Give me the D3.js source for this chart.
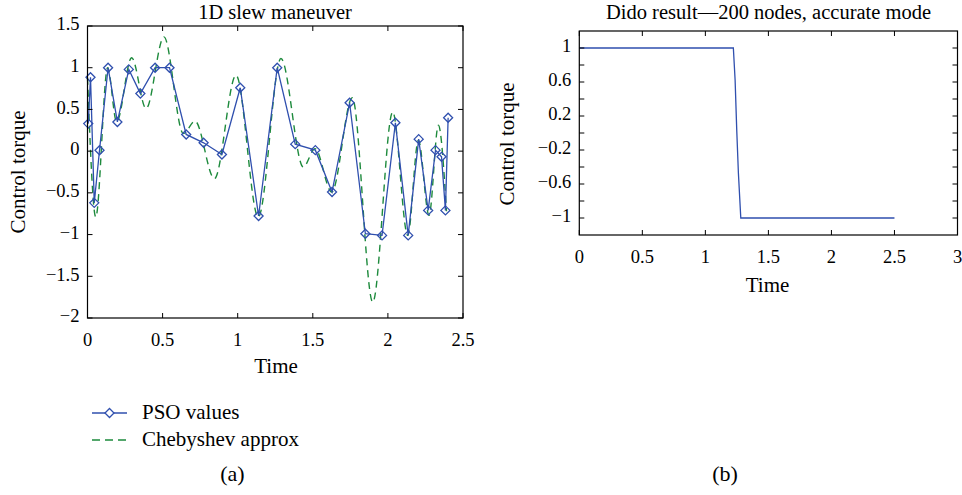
<!DOCTYPE html>
<html><head><meta charset="utf-8">
<script src="https://cdn.jsdelivr.net/npm/d3@7"></script>
<style>
html,body{margin:0;padding:0;background:#fff;}
svg text{font-family:"Liberation Serif","Times New Roman",serif;fill:#000;}
</style></head>
<body><svg id="chart" width="962" height="495"></svg>
<script>
// ---- data ----
const psoTime  = [0.005,0.02,0.045,0.08,0.137,0.199,0.275,0.352,0.45,0.546,0.657,0.773,0.895,1.017,1.139,1.263,1.383,1.517,1.628,1.745,1.85,1.961,2.05,2.135,2.205,2.268,2.317,2.357,2.383,2.401];
const psoValue = [0.33,0.885,-0.62,0.01,1.0,0.35,0.98,0.69,1.0,1.0,0.2,0.1,-0.04,0.76,-0.777,1.0,0.084,0.012,-0.49,0.58,-0.99,-1.01,0.34,-1.01,0.144,-0.71,0.012,-0.068,-0.71,0.40];
const chebTime  = [0.0,0.055,0.134,0.194,0.294,0.39,0.509,0.638,0.716,0.845,0.989,1.137,1.288,1.437,1.515,1.626,1.763,1.899,2.032,2.132,2.203,2.274,2.336,2.39];
const chebValue = [0.88,-0.79,1.0,0.35,1.12,0.51,1.37,0.21,0.36,-0.33,0.91,-0.79,1.11,-0.19,0.03,-0.49,0.64,-1.81,0.47,-1.01,0.13,-0.77,0.31,-0.72];
const didoTime  = [0,1.222,1.236,1.249,1.262,1.281,2.5];
const didoValue = [1,1,0.62,0.03,-0.47,-1,-1];

const leftXTicks = [0,0.5,1,1.5,2,2.5];
const leftYTicks = [-2,-1.5,-1,-0.5,0,0.5,1,1.5];
const rightXTicks = [0,0.5,1,1.5,2,2.5,3];
const rightYTicks = [-1,-0.8,-0.6,-0.4,-0.2,0,0.2,0.4,0.6,0.8,1];
const rightYLabels = [1,0.6,0.2,-0.2,-0.6,-1];

const titles = ["1D slew maneuver","Dido result\u2014200 nodes, accurate mode"];
const seriesNames = ["PSO values","Chebyshev approx"];

const blue = "#2f4fae", green = "#1d8a3c";
const fmt = v => d3.format("")(v).replace("-", "\u2212");
const FS = 21, TS = 18.5;

const svg = d3.select("#chart");

function frame(g, x, y, xt, yt, ylabels){
  const [x0,x1] = x.range(), [y0,y1] = y.range();
  const tl = 5;
  g.append("rect").attr("x",x0).attr("y",y1).attr("width",x1-x0).attr("height",y0-y1)
   .attr("fill","none").attr("stroke","#000").attr("stroke-width",1.2);
  xt.forEach(t=>{
    const px = x(t);
    g.append("line").attr("x1",px).attr("x2",px).attr("y1",y0).attr("y2",y0-tl).attr("stroke","#000");
    g.append("line").attr("x1",px).attr("x2",px).attr("y1",y1).attr("y2",y1+tl).attr("stroke","#000");
    g.append("text").attr("x",px).attr("y",y0+24).attr("text-anchor","middle")
     .attr("dominant-baseline","middle").attr("font-size",TS).text(fmt(t));
  });
  yt.forEach(t=>{
    const py = y(t);
    g.append("line").attr("x1",x0).attr("x2",x0+tl).attr("y1",py).attr("y2",py).attr("stroke","#000");
    g.append("line").attr("x1",x1).attr("x2",x1-tl).attr("y1",py).attr("y2",py).attr("stroke","#000");
  });
  ylabels.forEach(t=>{
    g.append("text").attr("x",x0-8).attr("y",y(t)).attr("text-anchor","end")
     .attr("dominant-baseline","middle").attr("font-size",TS).text(fmt(t));
  });
}

// ---- left chart ----
const xL = d3.scaleLinear().domain([0,2.5]).range([87.5,463]);
const yL = d3.scaleLinear().domain([-2,1.5]).range([318,26]);
const gL = svg.append("g");

const chebData = chebTime.map((t,i)=>[t,chebValue[i]]);
gL.append("path").datum(chebData)
  .attr("d", d3.line().x(d=>xL(d[0])).y(d=>yL(d[1])).curve(d3.curveMonotoneX))
  .attr("fill","none").attr("stroke",green).attr("stroke-width",1.4).attr("stroke-dasharray","7,5");

const psoData = psoTime.map((t,i)=>[t,psoValue[i]]);
gL.append("path").datum(psoData)
  .attr("d", d3.line().x(d=>xL(d[0])).y(d=>yL(d[1])))
  .attr("fill","none").attr("stroke",blue).attr("stroke-width",1.3);
const diamond = d3.symbol().type(d3.symbolDiamond2).size(52);
gL.selectAll("path.mk").data(psoData).join("path").attr("class","mk")
  .attr("d",diamond).attr("transform",d=>`translate(${xL(d[0])},${yL(d[1])})`)
  .attr("fill","none").attr("stroke",blue).attr("stroke-width",1.3);

frame(gL, xL, yL, leftXTicks, leftYTicks, leftYTicks);

gL.append("text").attr("x",275).attr("y",19).attr("text-anchor","middle")
  .attr("font-size",20.5).text(titles[0]);
gL.append("text").attr("x",276).attr("y",368).attr("text-anchor","middle").attr("dominant-baseline","middle")
  .attr("font-size",FS).text("Time");
gL.append("text").attr("transform","translate(20,172) rotate(-90)").attr("text-anchor","middle")
  .attr("dominant-baseline","middle").attr("font-size",FS).text("Control torque");

// legend
const lg = gL.append("g");
lg.append("line").attr("x1",92).attr("x2",127).attr("y1",413).attr("y2",413).attr("stroke",blue).attr("stroke-width",1.3);
lg.append("path").attr("d",diamond).attr("transform","translate(109.5,413)").attr("fill","#fff").attr("stroke",blue).attr("stroke-width",1.3);
lg.append("line").attr("x1",92).attr("x2",127).attr("y1",440).attr("y2",440).attr("stroke",green).attr("stroke-width",1.4).attr("stroke-dasharray","8,5");
lg.append("text").attr("x",142).attr("y",414).attr("dominant-baseline","middle").attr("font-size",FS).text(seriesNames[0]);
lg.append("text").attr("x",142).attr("y",441).attr("dominant-baseline","middle").attr("font-size",FS).text(seriesNames[1]);

svg.append("text").attr("x",232.5).attr("y",476).attr("text-anchor","middle").attr("dominant-baseline","middle")
  .attr("font-size",22).text("(a)");

// ---- right chart ----
const xR = d3.scaleLinear().domain([0,3]).range([579.3,957.5]);
const yR = d3.scaleLinear().domain([-1.2,1.2]).range([235,31]);
const gR = svg.append("g");
const didoData = didoTime.map((t,i)=>[t,didoValue[i]]);
gR.append("path").datum(didoData)
  .attr("d", d3.line().x(d=>xR(d[0])).y(d=>yR(d[1])))
  .attr("fill","none").attr("stroke",blue).attr("stroke-width",1.3);
frame(gR, xR, yR, rightXTicks, rightYTicks, rightYLabels);

gR.append("text").attr("x",768.5).attr("y",19).attr("text-anchor","middle")
  .attr("font-size",20.5).text(titles[1]);
gR.append("text").attr("x",767.5).attr("y",287).attr("text-anchor","middle").attr("dominant-baseline","middle")
  .attr("font-size",FS).text("Time");
gR.append("text").attr("transform","translate(509,144) rotate(-90)").attr("text-anchor","middle")
  .attr("dominant-baseline","middle").attr("font-size",FS).text("Control torque");

svg.append("text").attr("x",725).attr("y",476).attr("text-anchor","middle").attr("dominant-baseline","middle")
  .attr("font-size",22).text("(b)");
</script></body></html>
